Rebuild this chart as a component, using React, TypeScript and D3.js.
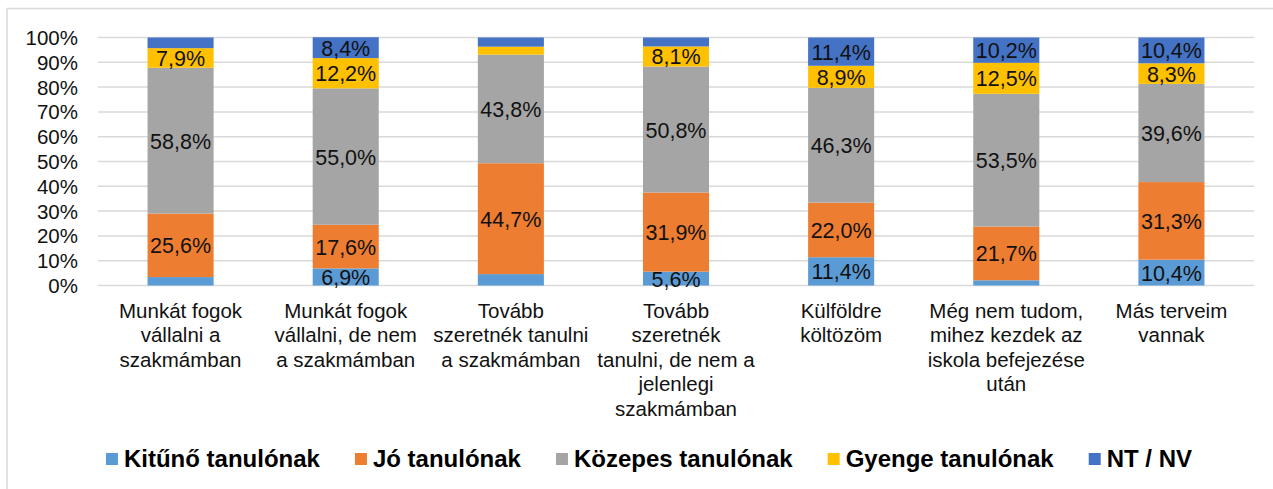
import React, { useLayoutEffect } from "react";
import * as d3 from "d3";

const categories: string[][] = [
  ["Munkát fogok", "vállalni a", "szakmámban"],
  ["Munkát fogok", "vállalni, de nem", "a szakmámban"],
  ["Tovább", "szeretnék tanulni", "a szakmámban"],
  ["Tovább", "szeretnék", "tanulni, de nem a", "jelenlegi", "szakmámban"],
  ["Külföldre", "költözöm"],
  ["Még nem tudom,", "mihez kezdek az", "iskola befejezése", "után"],
  ["Más terveim", "vannak"],
];

const seriesNames = ["Kitűnő tanulónak", "Jó tanulónak", "Közepes tanulónak", "Gyenge tanulónak", "NT / NV"];
const seriesColors = ["#5B9BD5", "#ED7D31", "#A5A5A5", "#FFC000", "#4472C4"];

const kitunoValues = [3.4, 6.9, 4.6, 5.6, 11.4, 2.1, 10.4];
const joValues = [25.6, 17.6, 44.7, 31.9, 22.0, 21.7, 31.3];
const kozepesValues = [58.8, 55.0, 43.8, 50.8, 46.3, 53.5, 39.6];
const gyengeValues = [7.9, 12.2, 3.2, 8.1, 8.9, 12.5, 8.3];
const ntValues = [4.3, 8.4, 3.7, 3.6, 11.4, 10.2, 10.4];

const yTicks = [0, 10, 20, 30, 40, 50, 60, 70, 80, 90, 100];
const labelThreshold = 5;

const W = 1273;
const H = 489;
const FONT = "'Liberation Sans', Arial, sans-serif";

function measure(text: string, font: string): number {
  const c = document.createElement("canvas");
  const ctx = c.getContext("2d");
  if (!ctx) return text.length * 12;
  ctx.font = font;
  return ctx.measureText(text).width;
}

export default function App() {
  useLayoutEffect(() => {
    document.body.style.margin = "0";
  }, []);

  const allSeries = [kitunoValues, joValues, kozepesValues, gyengeValues, ntValues];
  const idx = categories.map((_, i) => i);

  const x = d3
    .scaleBand<number>()
    .domain(idx)
    .range([98, 1254])
    .paddingInner(0.6)
    .paddingOuter(0.3);
  const y = d3.scaleLinear().domain([0, 100]).range([285.5, 37.5]);

  const rows = idx.map((i) => {
    const r: any = { i };
    seriesNames.forEach((s, k) => (r[s] = allSeries[k][i]));
    return r;
  });
  const stacked = d3.stack<any>().keys(seriesNames)(rows);

  const legendFont = `bold 24px ${FONT}`;
  const sq = 12;
  const sqGap = 6;
  const itemGap = 35;
  const widths = seriesNames.map((s) => measure(s, legendFont));
  const total = widths.reduce((a, w) => a + sq + sqGap + w, 0) + itemGap * (seriesNames.length - 1);
  let lx = 649 - total / 2;
  const legendItems = seriesNames.map((s, k) => {
    const item = { s, k, x: lx };
    lx += sq + sqGap + widths[k] + itemGap;
    return item;
  });

  const lineH = 24.4;

  return (
    <svg width={W} height={H} style={{ display: "block" }} fontFamily={FONT}>
      <rect x={0} y={0} width={W} height={H} fill="#fff" />
      <rect x={7} y={8.5} width={W + 20} height={H + 20} fill="none" stroke="#d9d9d9" strokeWidth={1.5} />
      {yTicks.map((t) => (
        <g key={t}>
          <line x1={98} x2={1254} y1={y(t)} y2={y(t)} stroke="#d9d9d9" strokeWidth={1.5} />
          <text x={78} y={y(t)} textAnchor="end" dominantBaseline="central" fontSize={20.5} fill="#111">
            {t}%
          </text>
        </g>
      ))}
      {stacked.map((layer, k) => (
        <g key={k} fill={seriesColors[k]}>
          {layer.map((d, i) => (
            <rect
              key={i}
              x={x(i)}
              width={x.bandwidth()}
              y={y(d[1])}
              height={y(d[0]) - y(d[1])}
            />
          ))}
        </g>
      ))}
      {stacked.map((layer, k) => (
        <g key={"l" + k}>
          {layer.map((d, i) => {
            const v = allSeries[k][i];
            if (v < labelThreshold) return null;
            const cx = (x(i) as number) + x.bandwidth() / 2;
            const cy = (y(d[0]) + y(d[1])) / 2 + 1;
            return (
              <text
                key={i}
                x={cx}
                y={cy}
                textAnchor="middle"
                dominantBaseline="central"
                fontSize={21.5}
                fill="#111"
              >
                {v.toFixed(1).replace(".", ",")}%
              </text>
            );
          })}
        </g>
      ))}
      {categories.map((lines, i) => (
        <text key={i} textAnchor="middle" fontSize={20.5} fill="#111">
          {lines.map((ln, j) => (
            <tspan key={j} x={(x(i) as number) + x.bandwidth() / 2} y={318 + j * lineH}>
              {ln}
            </tspan>
          ))}
        </text>
      ))}
      {legendItems.map(({ s, k, x: ix }) => (
        <g key={s}>
          <rect x={ix} y={453} width={sq} height={sq} fill={seriesColors[k]} />
          <text x={ix + sq + sqGap} y={467} fontSize={24} fontWeight="bold" fill="#000">
            {s}
          </text>
        </g>
      ))}
    </svg>
  );
}
